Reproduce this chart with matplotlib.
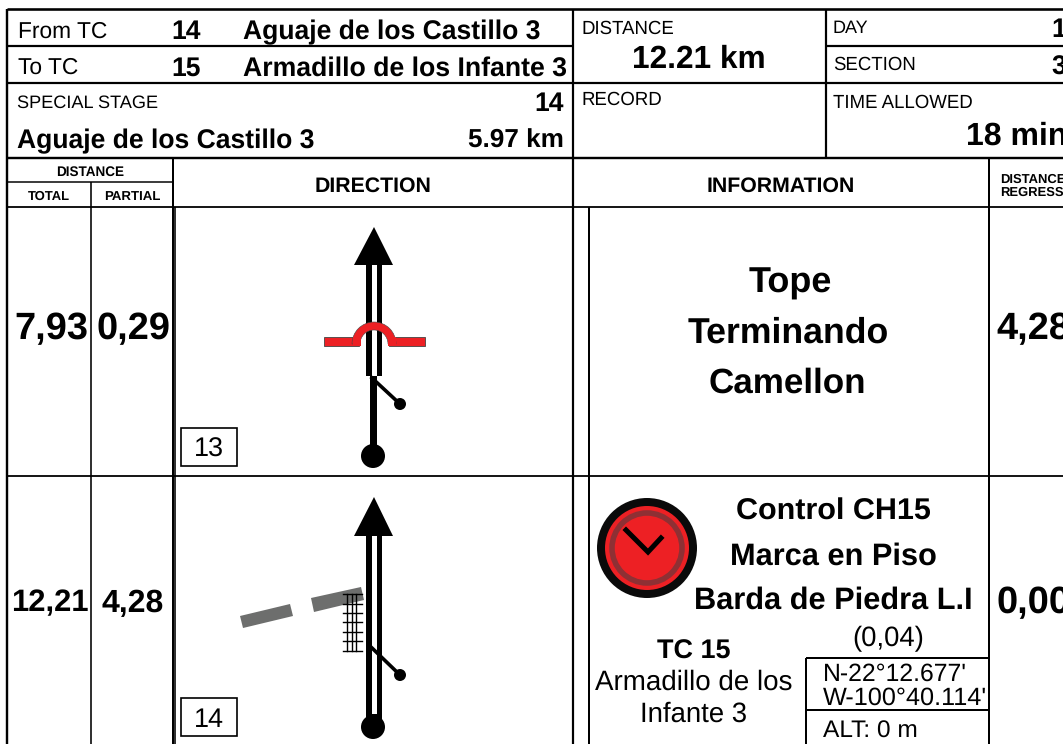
import matplotlib
matplotlib.use("Agg")
import matplotlib.pyplot as plt
from matplotlib.patches import Polygon, Circle, Rectangle, Wedge

plt.rcParams['font.family'] = ['Liberation Sans', 'DejaVu Sans']
plt.rcParams['text.hinting'] = 'no_hinting'

W, H = 1063, 744
fig = plt.figure(figsize=(W/100, H/100), dpi=100)
ax = fig.add_axes([0, 0, 1, 1])
ax.set_xlim(0, W); ax.set_ylim(H, 0); ax.axis('off')

RED = '#ed2024'
BLK = '#000000'

# (x0, y0, x1, y1, width)
rules = [
    (7, 9, 1063, 9, 2.6), (7, 9, 7, 744, 2.4),
    (7, 46, 573, 46, 2.2), (7, 83, 573, 83, 2.2), (826, 46, 1063, 46, 2.2), (573, 83, 1063, 83, 2.2),
    (7, 158, 1063, 158, 2.4), (7, 182, 173, 182, 1.5), (7, 207, 1063, 207, 1.8), (7, 476, 1063, 476, 1.8),
    (573, 9, 573, 744, 2.2), (826, 9, 826, 158, 2.2), (989, 158, 989, 744, 2),
    (91, 182, 91, 744, 1.6), (173, 158, 173, 744, 2), (175, 207, 175, 744, 1.6), (589, 207, 589, 744, 2),
    (806, 658, 989, 658, 2), (806, 658, 806, 744, 2), (806, 710, 989, 710, 2),
]
for x0, y0, x1, y1, lw in rules:
    ax.plot([x0, x1], [y0, y1], color=BLK, lw=lw*0.72, solid_capstyle='butt')

# x, y, text, px size, weight, ha
labels = [
    (18, 30, 'From TC', 22.8, 'normal', 'left'), (171, 31, '14', 26.5, 'bold', 'left'),
    (243, 31, 'Aguaje de los Castillo 3', 26.5, 'bold', 'left'),
    (18, 66, 'To TC', 22.8, 'normal', 'left'), (171, 67, '15', 26.5, 'bold', 'left'),
    (243, 67, 'Armadillo de los Infante 3', 26.6, 'bold', 'left'),
    (17, 102, 'SPECIAL STAGE', 18.2, 'normal', 'left'), (564, 103, '14', 26.5, 'bold', 'right'),
    (17, 140, 'Aguaje de los Castillo 3', 26.5, 'bold', 'left'), (564, 140, '5.97 km', 26.1, 'bold', 'right'),
    (581, 27, 'DISTANCE', 18.7, 'normal', 'left'), (699, 58, '12.21 km', 31.6, 'bold', 'center'),
    (581, 98, 'RECORD', 18.7, 'normal', 'left'),
    (833, 27, 'DAY', 18, 'normal', 'left'), (1066, 29, '1', 26.5, 'bold', 'right'),
    (833, 63, 'SECTION', 18.7, 'normal', 'left'), (1066, 66, '3', 26.5, 'bold', 'right'),
    (833, 101, 'TIME ALLOWED', 18.7, 'normal', 'left'), (1067, 135, '18 min', 32, 'bold', 'right'),
    (90, 171, 'DISTANCE', 13.5, 'bold', 'center'), (49, 195, 'TOTAL', 13, 'bold', 'center'),
    (132, 195, 'PARTIAL', 13.2, 'bold', 'center'), (373, 185, 'DIRECTION', 21.3, 'bold', 'center'),
    (781, 185, 'INFORMATION', 21.3, 'bold', 'center'),
    (1000, 178, 'DISTANCE', 13, 'bold', 'left'), (1000, 191, 'REGRESS', 13, 'bold', 'left'),
    (51, 328, '7,93', 38, 'bold', 'center'), (133, 328, '0,29', 38, 'bold', 'center'),
    (996, 328, '4,28', 38, 'bold', 'left'),
    (790, 282, 'Tope', 36, 'bold', 'center'), (788, 332, 'Terminando', 35.6, 'bold', 'center'),
    (787, 382, 'Camellon', 35, 'bold', 'center'),
    (50, 602, '12,21', 31, 'bold', 'center'), (133, 602, '4,28', 32, 'bold', 'center'),
    (997, 602, '0,00', 38, 'bold', 'left'),
    (209, 448, '13', 27, 'normal', 'center'), (209, 719, '14', 27, 'normal', 'center'),
    (833, 510, 'Control CH15', 30.5, 'bold', 'center'), (833, 555, 'Marca en Piso', 30.8, 'bold', 'center'),
    (833, 599, 'Barda de Piedra L.I', 30.8, 'bold', 'center'), (888, 637, '(0,04)', 27.5, 'normal', 'center'),
    (694, 650, 'TC 15', 27, 'bold', 'center'), (694, 681, 'Armadillo de los', 27.7, 'normal', 'center'),
    (694, 713, 'Infante 3', 27.5, 'normal', 'center'),
    (823, 673, 'N-22°12.677\'', 24.7, 'normal', 'left'), (823, 697, 'W-100°40.114\'', 25.2, 'normal', 'left'),
    (823, 730, 'ALT: 0 m', 24.5, 'normal', 'left'),
]
for x, y, s, px, w, ha in labels:
    ax.text(x, y + 1.5, s, fontsize=px*0.72, fontweight=w, ha=ha, va='center', color=BLK, clip_on=True)

def rect(x0, y0, x1, y1, fc, ec='none', lw=0, z=2):
    ax.add_patch(Rectangle((x0, y0), x1-x0, y1-y0, fc=fc, ec=ec, lw=lw, zorder=z))

# number boxes
rect(181, 428, 237, 466, 'white', BLK, 1.2)
rect(181, 698, 237, 736, 'white', BLK, 1.2)

# --- row 1 tulip
ax.add_patch(Polygon([(374, 227), (354, 265), (393, 265)], fc=BLK, zorder=3))
rect(366, 265, 382, 376, BLK)
rect(371.5, 265, 376.5, 376, 'white', z=2.1)
rect(369.5, 376, 377, 446, BLK)
ax.add_patch(Circle((373, 456), 12, fc=BLK, zorder=3))
ax.plot([372, 400], [378, 404], color=BLK, lw=2.6, zorder=3)
ax.add_patch(Circle((400, 404), 6, fc=BLK, zorder=3))
# speed bump
EC = '#444444'
ax.add_patch(Rectangle((324, 337), 35, 9, fc=RED, ec=EC, lw=0.6, zorder=4))
ax.add_patch(Rectangle((389, 337), 36, 9, fc=RED, ec=EC, lw=0.6, zorder=4))
ax.add_patch(Wedge((374, 344), 22, 180, 360, width=8, fc=RED, ec=EC, lw=0.4, zorder=4.1))
rect(353, 337.4, 361, 345.6, RED, z=4.2)
rect(388, 337.4, 396, 345.6, RED, z=4.2)

# --- row 2 tulip
ax.add_patch(Polygon([(374, 497), (354, 536), (393, 536)], fc=BLK, zorder=3))
rect(366, 536, 382, 720, BLK)
rect(371.5, 536, 376.5, 714, 'white', z=2.1)
ax.add_patch(Circle((373, 727), 12, fc=BLK, zorder=3))
ax.plot([372, 400], [648, 675], color=BLK, lw=2.6, zorder=3)
ax.add_patch(Circle((400, 675), 6, fc=BLK, zorder=3))
# wall dashes
GREY = '#6d6e6d'
ax.add_patch(Polygon([(240, 616), (290, 604), (293, 616), (243, 628)], fc=GREY, zorder=2))
ax.add_patch(Polygon([(311, 598), (361, 587), (364, 600), (314, 612)], fc=GREY, zorder=2))
# grid (hatched feature)
for y in [594, 604, 613, 622, 632, 641, 651]:
    ax.plot([343, 362], [y, y], color=BLK, lw=1, zorder=4)
for x in [347, 352, 356]:
    ax.plot([x, x], [594, 651], color=BLK, lw=1, zorder=4)

# --- clock icon
ax.add_patch(Circle((647, 548), 50, fc='#0a0a0a', ec='none', zorder=2))
ax.add_patch(Circle((647, 548), 42, fc=RED, zorder=3))
ax.add_patch(Circle((647, 548), 35, fc='none', ec='#8e3034', lw=4, zorder=4))
ax.plot([626, 648, 661], [530, 552, 538], color=BLK, lw=3.6, solid_joinstyle='miter', zorder=5)

fig.savefig('out.png', dpi=100)
